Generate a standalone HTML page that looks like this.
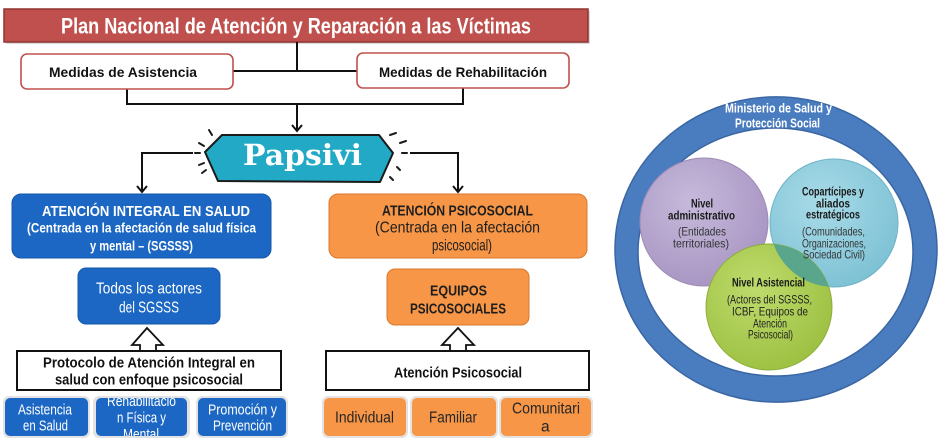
<!DOCTYPE html>
<html><head><meta charset="utf-8"><style>
html,body{margin:0;padding:0;background:#fff;}
svg{display:block;}
</style></head><body>
<svg width="950" height="448" viewBox="0 0 950 448" xmlns="http://www.w3.org/2000/svg" font-family="Liberation Sans, sans-serif">
<defs>
<radialGradient id="gp" cx="40%" cy="35%" r="70%"><stop offset="0" stop-color="#c6badb"/><stop offset="1" stop-color="#a794c2"/></radialGradient>
<radialGradient id="gt" cx="40%" cy="35%" r="70%"><stop offset="0" stop-color="#a9dbe8"/><stop offset="1" stop-color="#7cc1d4"/></radialGradient>
<radialGradient id="gg" cx="40%" cy="35%" r="70%"><stop offset="0" stop-color="#bedb6c"/><stop offset="1" stop-color="#9cc041"/></radialGradient>
<clipPath id="ct"><circle cx="834" cy="223" r="64"/></clipPath>
<clipPath id="cb2"><rect x="96" y="398" width="91" height="38" rx="5"/></clipPath>
</defs>
<rect width="950" height="448" fill="#fff"/>

<!-- Title -->
<rect x="6" y="11" width="584" height="33" fill="#d9d9d9"/>
<rect x="4" y="9" width="584" height="33" fill="#c0504d" stroke="#8f3431" stroke-width="1.5"/>
<text x="61" y="33.5" font-size="22" font-weight="bold" fill="#fff" textLength="470" lengthAdjust="spacingAndGlyphs">Plan Nacional de Atención y Reparación a las Víctimas</text>

<!-- connectors top -->
<g stroke="#111" stroke-width="2" fill="none">
<path d="M297 42 V71 M233 71 H357"/>
<path d="M127 89 V104 H463 V88"/>
<path d="M297 104 V131 M292 125 L297 131 L302 125"/>
<path d="M193 153 H142 V192 M137 186 L142 192 L147 186"/>
<path d="M410 153 H458 V192 M453 186 L458 192 L463 186"/>
</g>

<!-- Medidas boxes -->
<rect x="21" y="54" width="212" height="35" rx="6" fill="#fff" stroke="#c0504d" stroke-width="1.6"/>
<text x="49" y="77" font-size="14" font-weight="bold" fill="#111" textLength="148" lengthAdjust="spacingAndGlyphs">Medidas de Asistencia</text>
<rect x="357" y="53" width="212" height="35" rx="6" fill="#fff" stroke="#c0504d" stroke-width="1.6"/>
<text x="379" y="77" font-size="14" font-weight="bold" fill="#111" textLength="168" lengthAdjust="spacingAndGlyphs">Medidas de Rehabilitación</text>

<!-- Papsivi -->
<polygon points="205,152 222,135 379,135 393,153 380,182 218,181" fill="#22a9c6" stroke="#1a1a1a" stroke-width="2" stroke-linejoin="round"/>
<text x="243" y="165" font-family="DejaVu Serif, Liberation Serif, serif" font-size="29" font-weight="bold" fill="#fff" textLength="119" lengthAdjust="spacingAndGlyphs">Papsivi</text>
<g stroke="#1a1a1a" stroke-width="2" stroke-linecap="round">
<line x1="209" y1="130" x2="212" y2="135"/>
<line x1="199" y1="143" x2="204" y2="146"/>
<line x1="195" y1="153" x2="200" y2="153"/>
<line x1="199" y1="165" x2="204" y2="163"/>
<line x1="202" y1="173" x2="206" y2="170"/>
<line x1="390" y1="135" x2="396" y2="133"/>
<line x1="400" y1="143" x2="406" y2="141"/>
<line x1="402" y1="153" x2="407" y2="153"/>
<line x1="397" y1="167" x2="400" y2="170"/>
<line x1="390" y1="177" x2="393" y2="180"/>
</g>

<!-- Blue main box -->
<rect x="12" y="194" width="259" height="64" rx="9" fill="#1b67c3" stroke="#1657a8" stroke-width="1"/>
<text x="42" y="216" font-size="15" font-weight="bold" fill="#fff" textLength="208" lengthAdjust="spacingAndGlyphs">ATENCIÓN INTEGRAL EN SALUD</text>
<text x="27" y="232.5" font-size="14" font-weight="bold" fill="#fff" textLength="229" lengthAdjust="spacingAndGlyphs">(Centrada  en la afectación de salud física</text>
<text x="90" y="250.5" font-size="14" font-weight="bold" fill="#fff" textLength="103" lengthAdjust="spacingAndGlyphs">y mental – (SGSSS)</text>

<!-- Orange main box -->
<rect x="329" y="194" width="258" height="64" rx="9" fill="#f79646" stroke="#d9782c" stroke-width="1"/>
<text x="382" y="215.5" font-size="15" font-weight="bold" fill="#1e1e1e" textLength="151" lengthAdjust="spacingAndGlyphs">ATENCIÓN  PSICOSOCIAL</text>
<text x="375" y="232.5" font-size="16" fill="#1e1e1e" textLength="165" lengthAdjust="spacingAndGlyphs">(Centrada  en la afectación</text>
<text x="432" y="250.5" font-size="16" fill="#1e1e1e" textLength="60" lengthAdjust="spacingAndGlyphs">psicosocial)</text>

<!-- Todos -->
<rect x="78" y="268" width="142" height="56" rx="8" fill="#1b67c3" stroke="#1657a8" stroke-width="1"/>
<text x="96" y="293.5" font-size="16" fill="#fff" textLength="106" lengthAdjust="spacingAndGlyphs">Todos los actores</text>
<text x="119" y="312.5" font-size="16" fill="#fff" textLength="60" lengthAdjust="spacingAndGlyphs">del SGSSS</text>

<!-- Equipos -->
<rect x="387" y="269" width="142" height="56" rx="8" fill="#f79646" stroke="#d9782c" stroke-width="1"/>
<text x="430" y="295.5" font-size="15" font-weight="bold" fill="#1e1e1e" textLength="57" lengthAdjust="spacingAndGlyphs">EQUIPOS</text>
<text x="410" y="313.5" font-size="15" font-weight="bold" fill="#1e1e1e" textLength="96" lengthAdjust="spacingAndGlyphs">PSICOSOCIALES</text>

<!-- hollow arrows -->
<polygon points="147,328 163,345 156,345 156,352 140,352 140,345 132,345" fill="#fff" stroke="#111" stroke-width="1.8" stroke-linejoin="miter"/>
<polygon points="458,328 474,345 466,345 466,352 450,352 450,345 442,345" fill="#fff" stroke="#111" stroke-width="1.8" stroke-linejoin="miter"/>

<!-- Protocol box -->
<rect x="17" y="351" width="264" height="39" fill="#fff" stroke="#111" stroke-width="2"/>
<text x="43" y="367.5" font-size="15" font-weight="bold" fill="#111" textLength="212" lengthAdjust="spacingAndGlyphs">Protocolo de Atención Integral en</text>
<text x="55" y="384.5" font-size="15" font-weight="bold" fill="#111" textLength="188" lengthAdjust="spacingAndGlyphs">salud con enfoque psicosocial</text>

<!-- Atencion Psicosocial box -->
<rect x="326" y="351" width="263" height="39" fill="#fff" stroke="#111" stroke-width="2"/>
<text x="394" y="377.5" font-size="15" font-weight="bold" fill="#111" textLength="128" lengthAdjust="spacingAndGlyphs">Atención Psicosocial</text>

<!-- small blue boxes -->
<g>
<rect x="3" y="396" width="87" height="42" rx="6" fill="#e3e3e3"/>
<rect x="5" y="398" width="83" height="38" rx="5" fill="#1b67c3"/>
<rect x="93" y="396" width="97" height="42" rx="6" fill="#e3e3e3"/>
<rect x="96" y="398" width="91" height="38" rx="5" fill="#1b67c3"/>
<rect x="196" y="396" width="92" height="42" rx="6" fill="#e3e3e3"/>
<rect x="198" y="398" width="88" height="38" rx="5" fill="#1b67c3"/>
</g>
<text x="18" y="414.5" font-size="14.5" fill="#fff" textLength="54" lengthAdjust="spacingAndGlyphs">Asistencia</text>
<text x="23" y="430.5" font-size="14.5" fill="#fff" textLength="45" lengthAdjust="spacingAndGlyphs">en Salud</text>
<g clip-path="url(#cb2)">
<text x="107" y="406" font-size="14.5" fill="#fff" textLength="69" lengthAdjust="spacingAndGlyphs">Rehabilitació</text>
<text x="117" y="422.5" font-size="14.5" fill="#fff" textLength="49" lengthAdjust="spacingAndGlyphs">n Física y</text>
<text x="123" y="439" font-size="14.5" fill="#fff" textLength="36" lengthAdjust="spacingAndGlyphs">Mental</text>
</g>
<text x="208" y="414.5" font-size="14.5" fill="#fff" textLength="69" lengthAdjust="spacingAndGlyphs">Promoción y</text>
<text x="213" y="430.5" font-size="14.5" fill="#fff" textLength="59" lengthAdjust="spacingAndGlyphs">Prevención</text>

<!-- small orange boxes -->
<g>
<rect x="322" y="396" width="86" height="42" rx="6" fill="#e3e3e3"/>
<rect x="324" y="398" width="82" height="38" rx="5" fill="#f79646"/>
<rect x="410" y="396" width="88" height="42" rx="6" fill="#e3e3e3"/>
<rect x="412" y="398" width="84" height="38" rx="5" fill="#f79646"/>
<rect x="499" y="396" width="94" height="42" rx="6" fill="#e3e3e3"/>
<rect x="501" y="398" width="90" height="38" rx="5" fill="#f79646"/>
</g>
<text x="335" y="422.5" font-size="15.5" fill="#262626" textLength="59" lengthAdjust="spacingAndGlyphs">Individual</text>
<text x="429" y="422.5" font-size="15.5" fill="#262626" textLength="48" lengthAdjust="spacingAndGlyphs">Familiar</text>
<text x="512" y="413.5" font-size="15.5" fill="#262626" textLength="68" lengthAdjust="spacingAndGlyphs">Comunitari</text>
<text x="541" y="431.5" font-size="15.5" fill="#262626">a</text>

<!-- Right diagram: ring -->
<path fill-rule="evenodd" fill="#4a7dbf" stroke="#3a66a3" stroke-width="1.5"
 d="M615 249.5 A161 152.5 0 1 0 937 249.5 A161 152.5 0 1 0 615 249.5 Z
    M638 252 A137.5 124 0 1 0 913 252 A137.5 124 0 1 0 638 252 Z"/>
<text x="725" y="112.5" font-size="12.5" font-weight="bold" fill="#fff" textLength="107" lengthAdjust="spacingAndGlyphs">Ministerio de Salud y</text>
<text x="735" y="127.5" font-size="12.5" font-weight="bold" fill="#fff" textLength="85" lengthAdjust="spacingAndGlyphs">Protección Social</text>

<!-- circles -->
<circle cx="704" cy="222" r="64" fill="url(#gp)" stroke="#9d8bb6" stroke-width="1"/>
<circle cx="834" cy="223" r="64" fill="url(#gt)" stroke="#6eb3c6" stroke-width="1"/>
<circle cx="769" cy="307" r="63" fill="url(#gg)" stroke="#8cae3a" stroke-width="1"/>
<circle cx="769" cy="307" r="63" fill="#5aa68c" clip-path="url(#ct)"/>

<!-- purple text -->
<text x="691" y="207.5" font-size="12" font-weight="bold" fill="#1a1a1a" textLength="22" lengthAdjust="spacingAndGlyphs">Nivel</text>
<text x="668" y="219.5" font-size="12" font-weight="bold" fill="#1a1a1a" textLength="67" lengthAdjust="spacingAndGlyphs">administrativo</text>
<text x="678" y="235.5" font-size="12" fill="#333" textLength="48" lengthAdjust="spacingAndGlyphs">(Entidades</text>
<text x="673" y="247.5" font-size="12" fill="#333" textLength="56" lengthAdjust="spacingAndGlyphs">territoriales)</text>

<!-- teal text -->
<text x="802" y="195.5" font-size="12" font-weight="bold" fill="#1a1a1a" textLength="62" lengthAdjust="spacingAndGlyphs">Copartícipes y</text>
<text x="816" y="207.5" font-size="12" font-weight="bold" fill="#1a1a1a" textLength="34" lengthAdjust="spacingAndGlyphs">aliados</text>
<text x="806" y="218.5" font-size="12" font-weight="bold" fill="#1a1a1a" textLength="54" lengthAdjust="spacingAndGlyphs">estratégicos</text>
<text x="802" y="235.5" font-size="12" fill="#333" textLength="63" lengthAdjust="spacingAndGlyphs">(Comunidades,</text>
<text x="802" y="247.5" font-size="12" fill="#333" textLength="64" lengthAdjust="spacingAndGlyphs">Organizaciones,</text>
<text x="803" y="258.5" font-size="12" fill="#333" textLength="62" lengthAdjust="spacingAndGlyphs">Sociedad Civil)</text>

<!-- green text -->
<text x="732" y="286.5" font-size="12" font-weight="bold" fill="#1a1a1a" textLength="73" lengthAdjust="spacingAndGlyphs">Nivel Asistencial</text>
<text x="727" y="303.5" font-size="12" fill="#222" textLength="85" lengthAdjust="spacingAndGlyphs">(Actores del SGSSS,</text>
<text x="732" y="315.5" font-size="12" fill="#222" textLength="76" lengthAdjust="spacingAndGlyphs">ICBF, Equipos de</text>
<text x="753" y="327.5" font-size="12" fill="#222" textLength="34" lengthAdjust="spacingAndGlyphs">Atención</text>
<text x="748" y="338.5" font-size="12" fill="#222" textLength="45" lengthAdjust="spacingAndGlyphs">Psicosocial)</text>
</svg>
</body></html>
